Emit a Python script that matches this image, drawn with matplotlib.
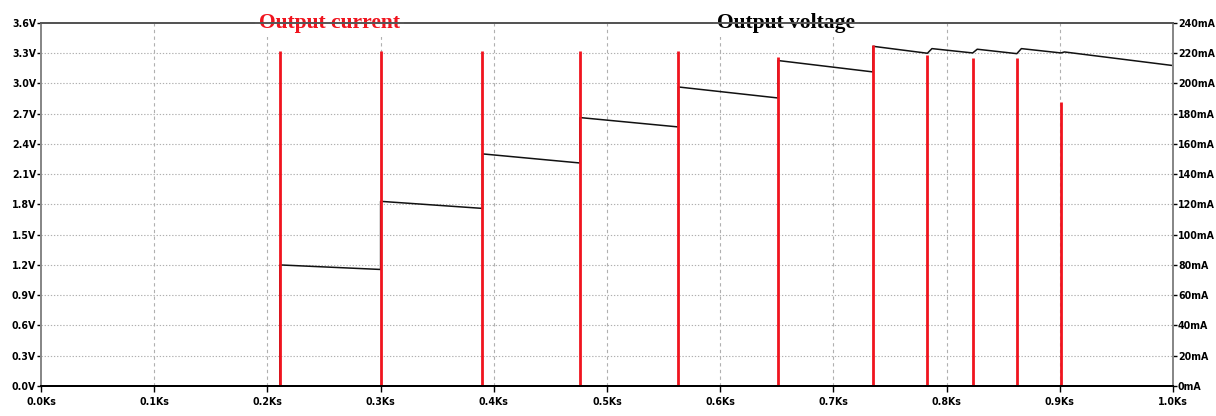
import matplotlib.pyplot as plt
import numpy as np

# output voltage trace (Ks, V) -- jumps drawn as repeated times
volt_t = [0.0, 0.211, 0.211, 0.300, 0.300, 0.390, 0.390, 0.476, 0.476, 0.563,
          0.563, 0.651, 0.651, 0.735, 0.735, 0.783, 0.787, 0.823, 0.827, 0.862,
          0.866, 0.901, 0.904, 1.0]
volt_v = [0.0, 0.0, 1.20, 1.155, 1.83, 1.76, 2.30, 2.21, 2.66, 2.567,
          2.963, 2.854, 3.225, 3.112, 3.366, 3.297, 3.343, 3.300, 3.337, 3.293,
          3.343, 3.300, 3.310, 3.175]

# output current spikes (Ks, mA)
spike_t = [0.211, 0.300, 0.390, 0.476, 0.563, 0.651, 0.735, 0.783, 0.823, 0.862, 0.901]
spike_ma = [221, 221, 221, 221, 221, 217, 225, 218.4, 216.6, 216.6, 187.7]

x_ticks = np.arange(0, 1.01, 0.1)
x_labels = ['%.1fKs' % v for v in x_ticks]
v_ticks = np.arange(0, 3.61, 0.3)
v_labels = ['%.1fV' % v for v in v_ticks]
ma_ticks = np.arange(0, 241, 20)
ma_labels = ['%dmA' % v for v in ma_ticks]

tick_font = dict(family=['DejaVu Sans'], stretch='condensed', weight='bold', size=7.6)

fig = plt.figure(figsize=(12.16, 4.16), dpi=100)
ax = fig.add_axes([0.0337, 0.072, 0.931, 0.8735])
ax2 = ax.twinx()

ax.set_xlim(0, 1.0)
ax.set_ylim(0, 3.6)
ax2.set_ylim(0, 240)

# grid
for v in v_ticks[1:-1]:
    ax.axhline(v, color='#b0b0b0', lw=0.8, ls=(0, (1.2, 1.6)), zorder=0)
for x in x_ticks[1:-1]:
    ax.axvline(x, color='#b0b0b0', lw=0.8, ls=(0, (3, 3)), zorder=0)

ax.plot(volt_t, volt_v, color='#111111', lw=1.1)
ax2.vlines(spike_t, 0, spike_ma, color='#f0141e', lw=2.0)

ax.set_xticks(x_ticks)
ax.set_xticklabels(x_labels, **tick_font)
ax.set_yticks(v_ticks)
ax.set_yticklabels(v_labels, **tick_font)
ax.tick_params(axis='y', length=3, width=1, pad=0.5, colors='black')
ax.tick_params(axis='x', length=4, width=1, pad=4, colors='black')
ax2.set_yticks(ma_ticks)
ax2.set_yticklabels(ma_labels, **tick_font)
ax2.tick_params(axis='y', length=3, width=1, pad=0.5, colors='black')

for a in (ax, ax2):
    a.spines['left'].set_color('#888888')
    a.spines['right'].set_color('#888888')
    a.spines['top'].set_color('#555555')
    a.spines['bottom'].set_color('black')
    for s in a.spines.values():
        s.set_linewidth(1.4)

title_font = dict(family=['Liberation Serif', 'DejaVu Serif'], weight='bold', size=15.5)
ax.text(0.255, 3.6, 'Output current', color='#f0141e', ha='center', va='center',
        bbox=dict(facecolor='white', edgecolor='none', pad=3), zorder=5,
        clip_on=False, **title_font)
ax.text(0.658, 3.6, 'Output voltage', color='black', ha='center', va='center',
        bbox=dict(facecolor='white', edgecolor='none', pad=3), zorder=5,
        clip_on=False, **title_font)

fig.savefig('out.png', dpi=100)
